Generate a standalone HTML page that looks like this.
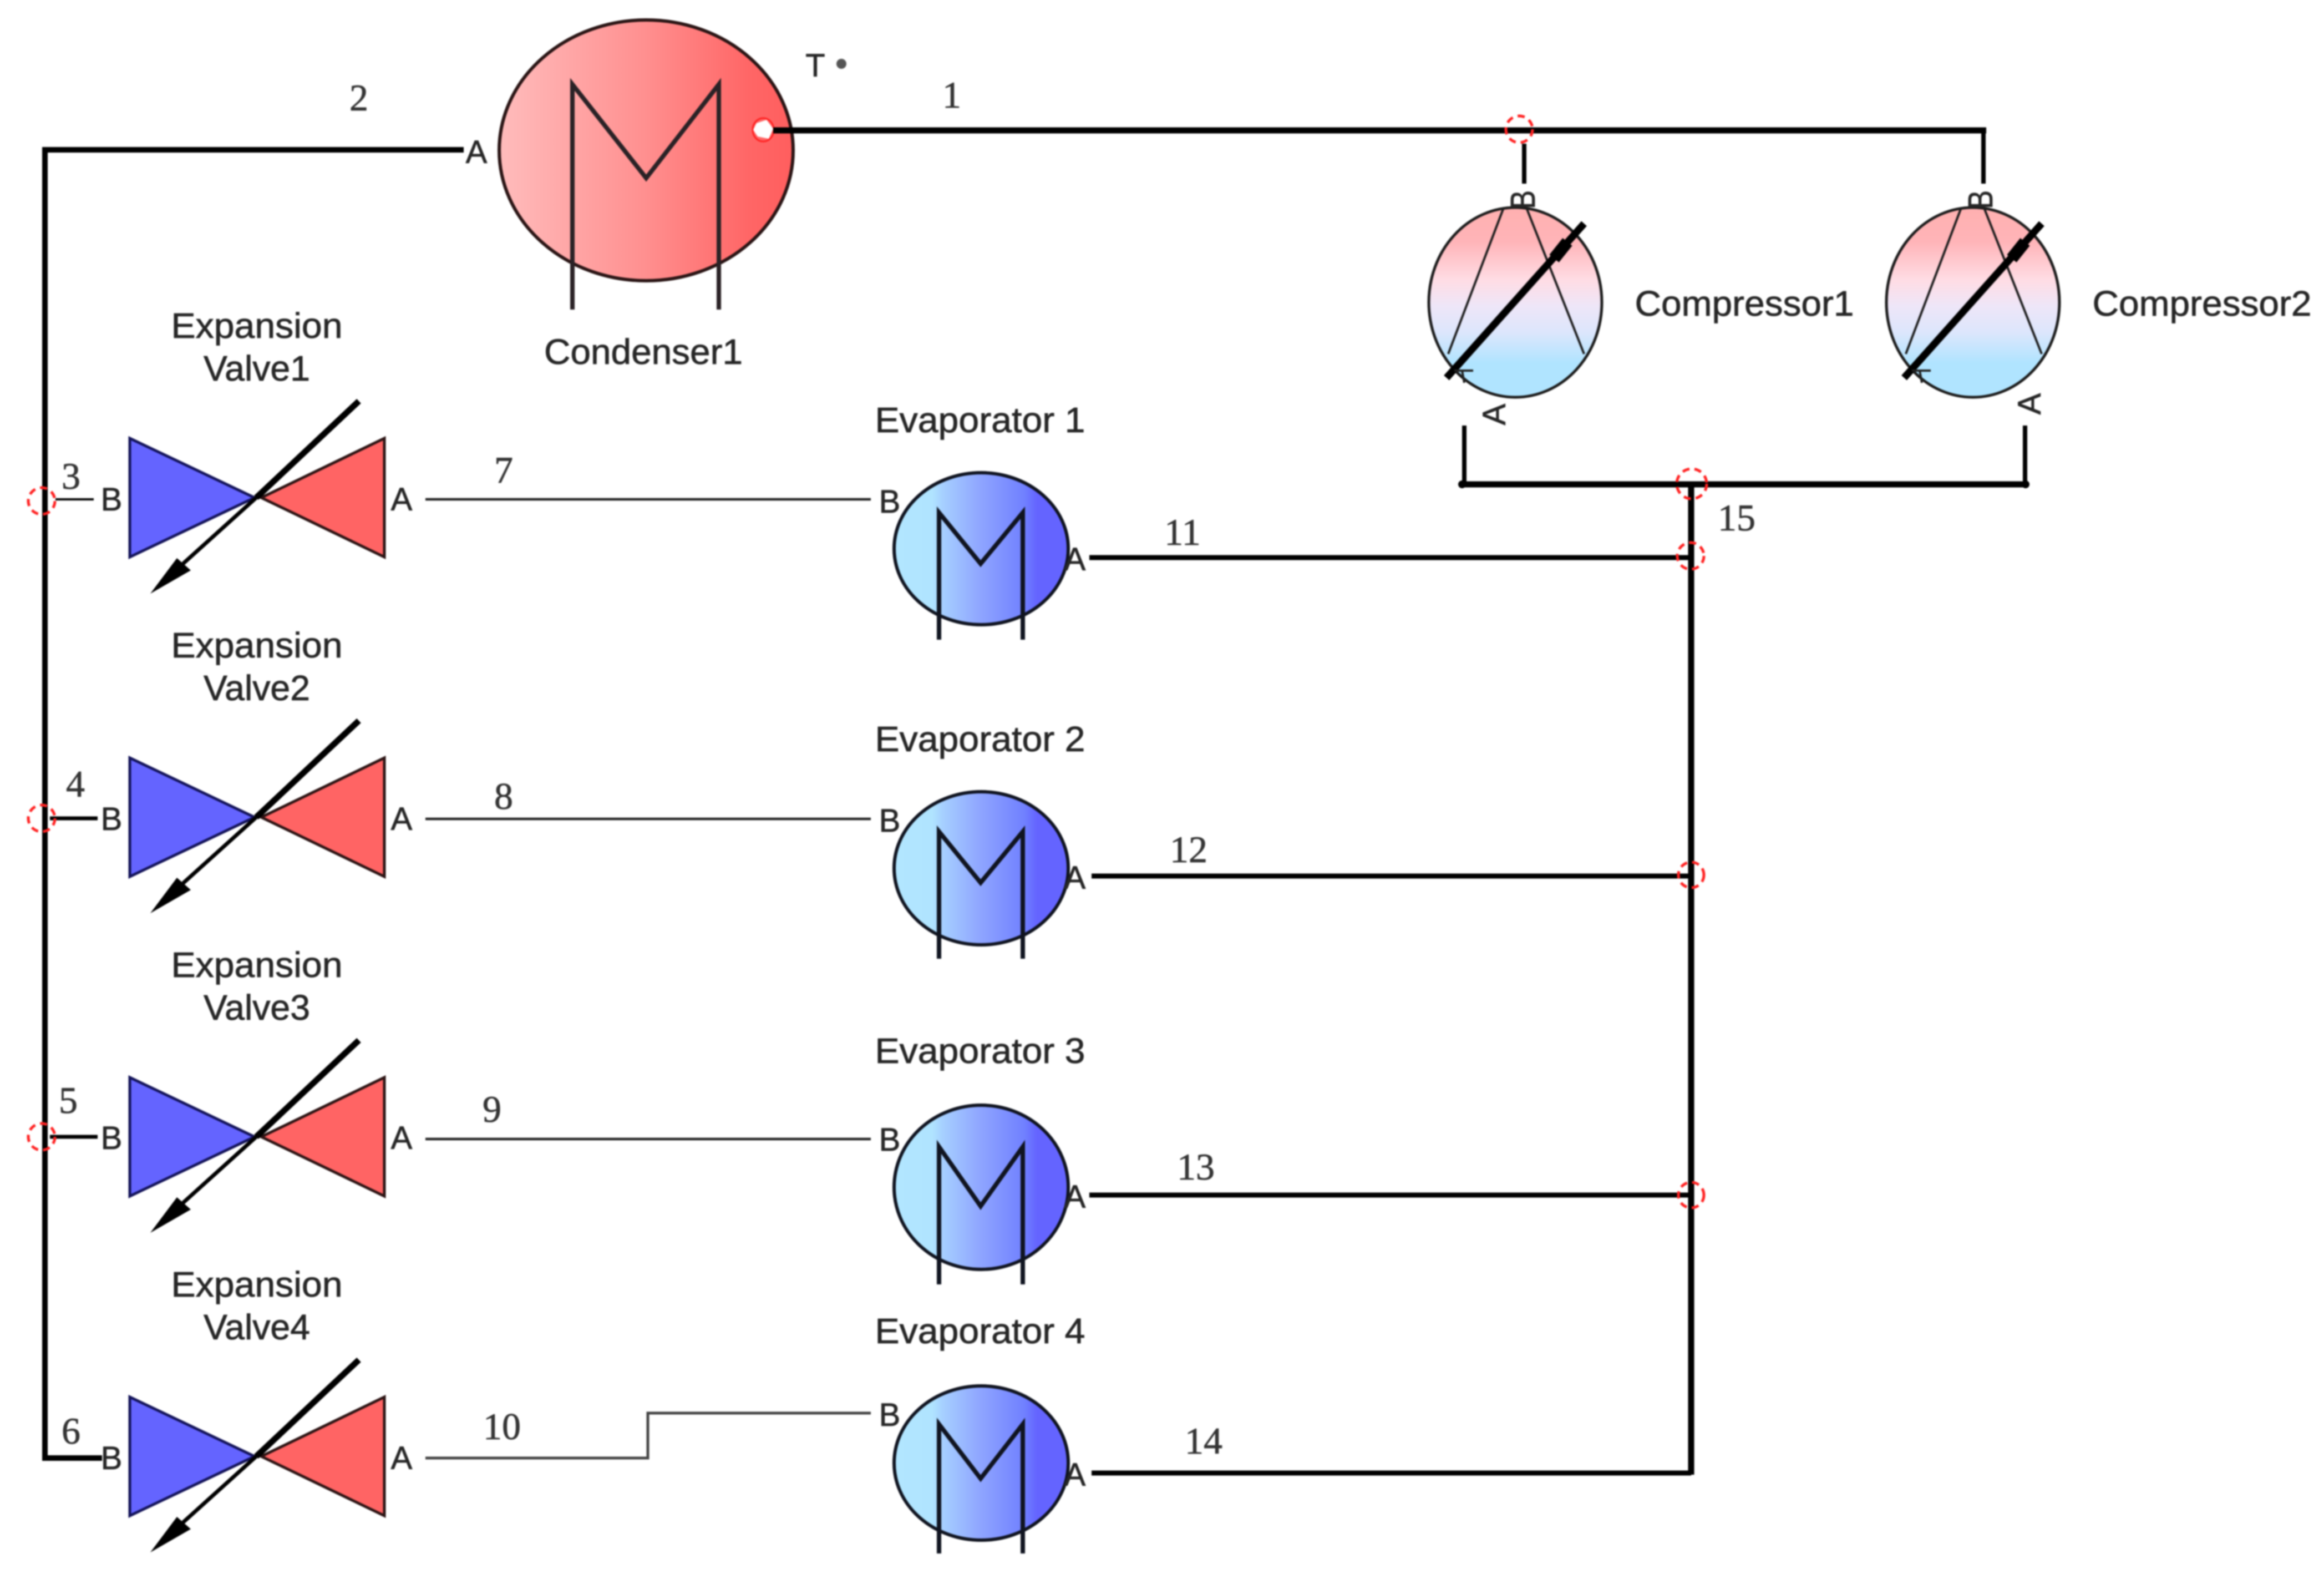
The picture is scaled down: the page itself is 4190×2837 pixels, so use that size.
<!DOCTYPE html>
<html><head><meta charset="utf-8"><style>
html,body{margin:0;padding:0;background:#fff;width:4190px;height:2837px;overflow:hidden}
svg{display:block;filter:blur(1.2px)}
text{font-family:"Liberation Sans",sans-serif;fill:#262626;stroke:#262626;stroke-width:.8}
.n{font-family:"Liberation Serif",serif;font-size:68px;text-anchor:middle;fill:#333;stroke:#333}
.t{font-size:64px;text-anchor:middle}
.p{font-size:58px;text-anchor:middle}
.c{fill:none;stroke:#f22;stroke-width:5;stroke-dasharray:13 9}
</style></head><body>
<svg width="4190" height="2837" viewBox="0 0 4190 2837" xmlns="http://www.w3.org/2000/svg">
<defs>
<linearGradient id="gc" x1="0" x2="1" y1="0" y2="0"><stop offset="0" stop-color="#ffbcbc"/><stop offset=".5" stop-color="#ff8f8f"/><stop offset=".85" stop-color="#ff6666"/><stop offset="1" stop-color="#ff5e5e"/></linearGradient>
<linearGradient id="ge" x1="0" x2="1" y1="0" y2="0"><stop offset="0" stop-color="#b2e6ff"/><stop offset=".22" stop-color="#b0e4ff"/><stop offset=".28" stop-color="#a6cfff"/><stop offset=".5" stop-color="#8ea4ff"/><stop offset=".75" stop-color="#7080ff"/><stop offset=".82" stop-color="#6464ff"/><stop offset="1" stop-color="#6464ff"/></linearGradient>
<linearGradient id="gk" x1="0" x2="0" y1="0" y2="1"><stop offset="0" stop-color="#ffb0b0"/><stop offset=".18" stop-color="#ffb4b8"/><stop offset=".38" stop-color="#ffdce4"/><stop offset=".52" stop-color="#eee6f8"/><stop offset=".66" stop-color="#dce6fc"/><stop offset=".82" stop-color="#b0e4ff"/><stop offset="1" stop-color="#b0e4ff"/></linearGradient>
<g id="valve">
<polygon points="234,790 234,1004 459,897" fill="#6464ff" stroke="#14145a" stroke-width="5"/>
<polygon points="693,790 693,1004 471,897" fill="#ff6464" stroke="#2c1414" stroke-width="5"/>
<line x1="647" y1="723" x2="462" y2="897" stroke="#000" stroke-width="11"/>
<line x1="462" y1="897" x2="330" y2="1016" stroke="#000" stroke-width="7"/>
<polygon points="271,1070 319,1006 344,1028" fill="#000"/>
</g>
<g id="comp">
<ellipse cx="2732" cy="545" rx="156" ry="171" fill="url(#gk)" stroke="#1c1c1c" stroke-width="5"/>
<path d="M2710,377 L2611,638 M2753,377 L2856,638" fill="none" stroke="#1c1c1c" stroke-width="4"/>
<line x1="2856" y1="403" x2="2608" y2="681" stroke="#000" stroke-width="13"/>
<line x1="2802" y1="466" x2="2826" y2="436" stroke="#000" stroke-width="22"/>
<path d="M2622,668 L2656,668 M2636,668 L2640,690" fill="none" stroke="#222" stroke-width="4"/>
</g>
</defs>
<rect width="4190" height="2837" fill="#fff"/>

<g fill="none" stroke="#000" stroke-width="10">
<path d="M836,270 H81 V2628 H184" stroke-linejoin="miter"/>
<path d="M1394,235 H3581" stroke-width="11"/>
<path d="M3576,235 V331 M2748,259 V331" stroke-width="8"/>
<path d="M2640,767 V873 M3651,767 V873" stroke-width="8"/>
<path d="M2636,873 H3655" stroke-width="11"/>
<path d="M3049,873 V2658" stroke-width="11"/>
<path d="M1964,1005 H3049 M1968,1579 H3049 M1964,2154 H3049 M1968,2655 H3049" stroke-width="9"/>
<path d="M100,900 H169" stroke-width="4"/>
<path d="M90,1475 H176 M90,2049 H176" stroke-width="7"/>
<path d="M767,900 H1570 M767,1476 H1570 M767,2053 H1570" stroke-width="4.5" stroke="#222"/>
<path d="M767,2628 H1168 V2547 H1570" stroke-width="5" stroke="#444"/>
</g>
<circle cx="2636" cy="873" r="7" fill="#000"/><circle cx="3652" cy="873" r="7" fill="#000"/>

<ellipse cx="1165" cy="271" rx="265" ry="235" fill="url(#gc)" stroke="#2a1515" stroke-width="6"/>
<path d="M1032,558 V152 L1165,321 L1296,152 V558" fill="none" stroke="#2a2226" stroke-width="8"/>
<ellipse cx="1376" cy="234" rx="19" ry="21" fill="#ff6666" stroke="#f22" stroke-width="3"/>
<polygon points="1364,222 1382,216 1394,232 1386,250 1366,246 1358,234" fill="#fff"/>
<line x1="1394" y1="235" x2="1432" y2="235" stroke="#000" stroke-width="11"/>
<text x="859" y="294" class="p">A</text>
<text x="1470" y="138" class="p">T</text>
<circle cx="1517" cy="115" r="9" fill="#555"/>
<text x="1160" y="656" class="t" textLength="358" lengthAdjust="spacingAndGlyphs">Condenser1</text>

<use href="#comp"/>
<use href="#comp" transform="translate(825,0)"/>
<text transform="translate(2767,360) rotate(-90)" class="p" style="font-size:62px" textLength="34" lengthAdjust="spacingAndGlyphs">B</text>
<text transform="translate(3592,360) rotate(-90)" class="p" style="font-size:62px" textLength="34" lengthAdjust="spacingAndGlyphs">B</text>
<text transform="translate(2714,747) rotate(-90)" class="p">A</text>
<text transform="translate(3679,728) rotate(-90)" class="p">A</text>
<text x="3145" y="569" class="t" textLength="395" lengthAdjust="spacingAndGlyphs">Compressor1</text>
<text x="3970" y="569" class="t" textLength="395" lengthAdjust="spacingAndGlyphs">Compressor2</text>

<use href="#valve"/>
<use href="#valve" transform="translate(0,576)"/>
<use href="#valve" transform="translate(0,1152)"/>
<use href="#valve" transform="translate(0,1728)"/>
<text x="463" y="609" class="t" textLength="309" lengthAdjust="spacingAndGlyphs">Expansion</text>
<text x="463" y="686" class="t" textLength="192" lengthAdjust="spacingAndGlyphs">Valve1</text>
<text x="463" y="1185" class="t" textLength="309" lengthAdjust="spacingAndGlyphs">Expansion</text>
<text x="463" y="1262" class="t" textLength="192" lengthAdjust="spacingAndGlyphs">Valve2</text>
<text x="463" y="1761" class="t" textLength="309" lengthAdjust="spacingAndGlyphs">Expansion</text>
<text x="463" y="1838" class="t" textLength="192" lengthAdjust="spacingAndGlyphs">Valve3</text>
<text x="463" y="2337" class="t" textLength="309" lengthAdjust="spacingAndGlyphs">Expansion</text>
<text x="463" y="2414" class="t" textLength="192" lengthAdjust="spacingAndGlyphs">Valve4</text>
<text x="201" y="920" class="p">B</text><text x="724" y="920" class="p">A</text>
<text x="201" y="1496" class="p">B</text><text x="724" y="1496" class="p">A</text>
<text x="201" y="2071" class="p">B</text><text x="724" y="2071" class="p">A</text>
<text x="201" y="2648" class="p">B</text><text x="724" y="2648" class="p">A</text>

<g stroke-width="6" stroke="#101420">
<ellipse cx="1769" cy="989" rx="157" ry="137" fill="url(#ge)"/>
<ellipse cx="1769" cy="1565" rx="157" ry="138" fill="url(#ge)"/>
<ellipse cx="1769" cy="2140" rx="157" ry="148" fill="url(#ge)"/>
<ellipse cx="1769" cy="2637" rx="157" ry="139" fill="url(#ge)"/>
</g>
<g fill="none" stroke="#101420" stroke-width="8">
<path d="M1693,1153 V924 L1768,1016 L1844,924 V1153"/>
<path d="M1693,1728 V1499 L1768,1591 L1844,1499 V1728"/>
<path d="M1693,2315 V2067 L1768,2174 L1844,2067 V2315"/>
<path d="M1693,2800 V2567 L1768,2665 L1844,2567 V2800"/>
</g>
<text x="1604" y="924" class="p">B</text><text x="1938" y="1028" class="p">A</text>
<text x="1604" y="1499" class="p">B</text><text x="1938" y="1602" class="p">A</text>
<text x="1604" y="2074" class="p">B</text><text x="1938" y="2177" class="p">A</text>
<text x="1604" y="2570" class="p">B</text><text x="1938" y="2678" class="p">A</text>
<text x="1767" y="779" class="t" textLength="379" lengthAdjust="spacingAndGlyphs">Evaporator 1</text>
<text x="1767" y="1354" class="t" textLength="379" lengthAdjust="spacingAndGlyphs">Evaporator 2</text>
<text x="1767" y="1916" class="t" textLength="379" lengthAdjust="spacingAndGlyphs">Evaporator 3</text>
<text x="1767" y="2421" class="t" textLength="379" lengthAdjust="spacingAndGlyphs">Evaporator 4</text>

<circle class="c" cx="2739" cy="233" r="24"/>
<circle class="c" cx="75" cy="903" r="24"/>
<circle class="c" cx="75" cy="1475" r="24"/>
<circle class="c" cx="75" cy="2049" r="24"/>
<circle class="c" cx="3050" cy="872" r="27"/>
<circle class="c" cx="3048" cy="1002" r="24"/>
<circle class="c" cx="3049" cy="1577" r="23"/>
<circle class="c" cx="3049" cy="2154" r="23"/>

<text x="647" y="199" class="n">2</text>
<text x="1716" y="194" class="n">1</text>
<text x="128" y="881" class="n">3</text>
<text x="908" y="870" class="n">7</text>
<text x="136" y="1436" class="n">4</text>
<text x="908" y="1458" class="n">8</text>
<text x="123" y="2006" class="n">5</text>
<text x="887" y="2022" class="n">9</text>
<text x="128" y="2602" class="n">6</text>
<text x="905" y="2594" class="n">10</text>
<text x="2132" y="982" class="n">11</text>
<text x="2143" y="1554" class="n">12</text>
<text x="2156" y="2126" class="n">13</text>
<text x="2170" y="2620" class="n">14</text>
<text x="3131" y="956" class="n">15</text>
</svg>
</body></html>
